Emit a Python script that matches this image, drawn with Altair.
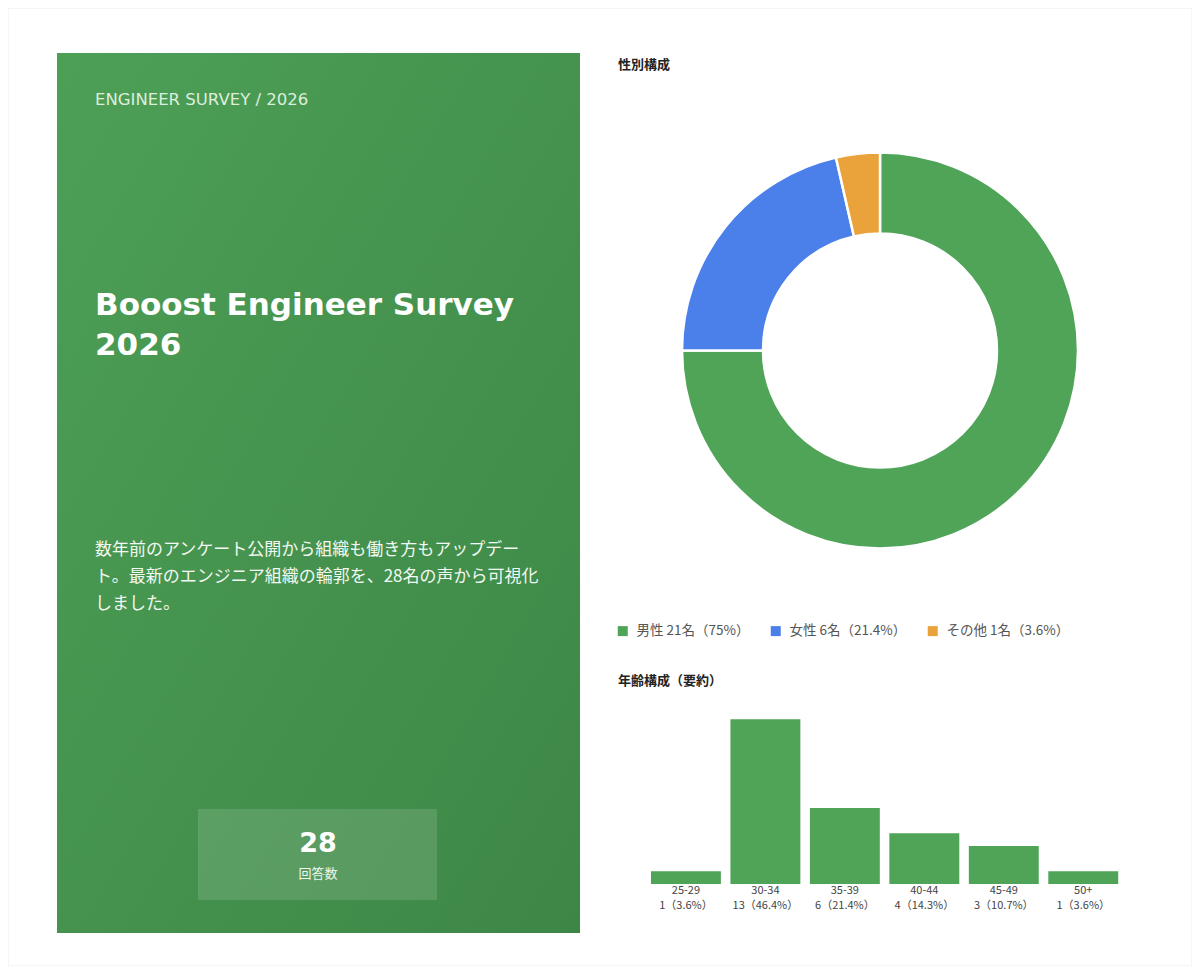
import altair as alt
import pandas as pd

# ---------------- data ----------------
kicker = "ENGINEER SURVEY / 2026"
title_lines = ["Booost Engineer Survey", "2026"]
para_lines = [
    "数年前のアンケート公開から組織も働き方もアップデー",
    "ト。最新のエンジニア組織の輪郭を、28名の声から可視化",
    "しました。",
]
respondents = "28"
respondents_label = "回答数"

gender_title = "性別構成"
gender_cats = ["男性", "女性", "その他"]
gender_counts = [21, 6, 1]
gender_pcts = ["75%", "21.4%", "3.6%"]
gender_colors = ["#4fa458", "#4b80ea", "#eaa23a"]

age_title = "年齢構成（要約）"
age_bins = ["25-29", "30-34", "35-39", "40-44", "45-49", "50+"]
age_counts = [1, 13, 6, 4, 3, 1]
age_pcts = ["3.6%", "46.4%", "21.4%", "14.3%", "10.7%", "3.6%"]
bar_color = "#4fa458"

JP = "Noto Sans CJK JP"
LAT = "DejaVu Sans"

dummy = pd.DataFrame({"k": [0]})

# ---------------- decorations ----------------
border = alt.Chart(dummy).mark_rect(fillOpacity=0, stroke="#ececec", strokeWidth=1).encode(
    x=alt.value(0), x2=alt.value(1184), y=alt.value(0), y2=alt.value(958)
)

card = alt.Chart(dummy).mark_rect(
    color=alt.LinearGradient(
        gradient="linear",
        stops=[alt.GradientStop(color="#4d9f56", offset=0),
               alt.GradientStop(color="#3d8746", offset=1)],
        x1=0, y1=0, x2=1, y2=1,
    )
).encode(x=alt.value(49), x2=alt.value(572), y=alt.value(45), y2=alt.value(925))

kicker_t = alt.Chart(dummy).mark_text(
    text=kicker, font=LAT, fontSize=16.5, color="#dcefdd", align="left", baseline="alphabetic"
).encode(x=alt.value(87), y=alt.value(97))

title_t = alt.Chart(dummy).mark_text(
    text=title_lines, font=LAT, fontSize=31, fontWeight="bold", color="white",
    align="left", baseline="alphabetic", lineHeight=40
).encode(x=alt.value(87), y=alt.value(307))

para_t = alt.Chart(dummy).mark_text(
    text=para_lines, font=JP, fontSize=17, color="#f2f8f2",
    align="left", baseline="middle", lineHeight=27
).encode(x=alt.value(87), y=alt.value(542))

box = alt.Chart(dummy).mark_rect(color="white", opacity=0.13).encode(
    x=alt.value(190), x2=alt.value(429), y=alt.value(801), y2=alt.value(892)
)

num_t = alt.Chart(dummy).mark_text(
    text=respondents, font=LAT, fontSize=27, fontWeight="bold", color="white",
    align="center", baseline="alphabetic"
).encode(x=alt.value(310), y=alt.value(844))

resp_t = alt.Chart(dummy).mark_text(
    text=respondents_label, font=JP, fontSize=13, color="#eef6ee",
    align="center", baseline="middle"
).encode(x=alt.value(310), y=alt.value(865.5))

gtitle_t = alt.Chart(dummy).mark_text(
    text=gender_title, font=JP, fontSize=13, fontWeight="bold", color="#222222",
    align="left", baseline="middle"
).encode(x=alt.value(610), y=alt.value(57))

atitle_t = alt.Chart(dummy).mark_text(
    text=age_title, font=JP, fontSize=13, fontWeight="bold", color="#222222",
    align="left", baseline="middle"
).encode(x=alt.value(610), y=alt.value(673))

# ---------------- donut ----------------
glabels = [f"{c} {n}名（{p}）" for c, n, p in zip(gender_cats, gender_counts, gender_pcts)]
gdf = pd.DataFrame({"label": glabels, "count": gender_counts, "order": list(range(len(glabels)))})

donut = alt.Chart(gdf).mark_arc(
    innerRadius=117, outerRadius=198, stroke="white", strokeWidth=2.5
).encode(
    theta=alt.Theta("count:Q", stack=True),
    order=alt.Order("order:Q"),
    color=alt.Color(
        "label:N",
        scale=alt.Scale(domain=glabels, range=gender_colors),
        legend=alt.Legend(
            title=None, orient="none", legendX=608, legendY=616, direction="horizontal",
            symbolType="square", symbolSize=100, symbolStrokeWidth=0, symbolOpacity=1,
            labelFont=JP, labelFontSize=13.5, labelColor="#555555", labelOffset=7,
            columnPadding=19, padding=0, labelLimit=400,
        ),
    ),
    x=alt.value(872),
    y=alt.value(342.5),
)

# ---------------- age bars ----------------
adf = pd.DataFrame({
    "bin": age_bins,
    "count": age_counts,
    "sub": [f"{c}（{p}）" for c, p in zip(age_counts, age_pcts)],
})
xenc = alt.X("bin:N", sort=age_bins, axis=None,
             scale=alt.Scale(range=[638.2, 1115], paddingInner=0.12, paddingOuter=0.06))
bars = alt.Chart(adf).mark_bar(color=bar_color).encode(
    x=xenc,
    y=alt.Y("count:Q", axis=None, scale=alt.Scale(domain=[0, 13], range=[876, 711.3], nice=False)),
)
lab1 = alt.Chart(adf).mark_text(font=JP, fontSize=11, color="#444444", baseline="middle").encode(
    x=xenc, y=alt.value(883), text="bin:N"
)
lab2 = alt.Chart(adf).mark_text(font=JP, fontSize=11, color="#444444", baseline="middle").encode(
    x=xenc, y=alt.value(898), text="sub:N"
)
age_chart = alt.layer(bars, lab1, lab2)

chart = alt.layer(
    border, card, kicker_t, title_t, para_t, box, num_t, resp_t,
    gtitle_t, donut, atitle_t, age_chart
).resolve_scale(
    x="independent", y="independent"
).properties(
    width=1184, height=958, padding=0,
    autosize=alt.AutoSizeParams(type="none"),
    background="white",
).configure_view(stroke=None)

chart.save("out.html", embed_options={"renderer": "svg", "actions": False})
